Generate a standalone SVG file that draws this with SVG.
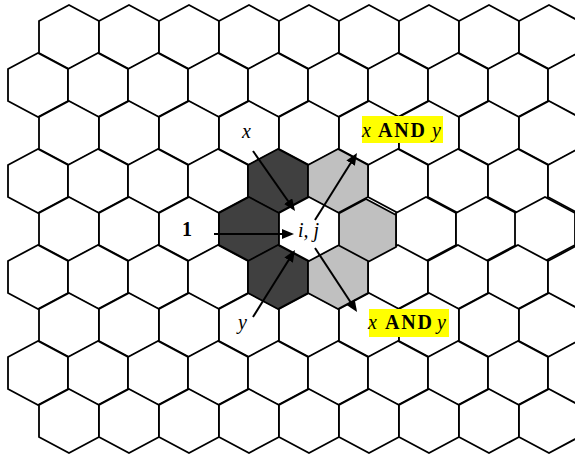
<svg xmlns="http://www.w3.org/2000/svg" xmlns:xlink="http://www.w3.org/1999/xlink" width="575" height="458" viewBox="0 0 575 458">
<style>
.h{fill:#fff;stroke:#000;stroke-width:1.8;stroke-linejoin:miter}
.dk{fill:#404040;stroke:#000;stroke-width:1.8}
.lt{fill:#c0c0c0;stroke:#000;stroke-width:1.8}
.wh{fill:#fff;stroke:#000;stroke-width:1.8}
.arr{stroke:#000;stroke-width:2;fill:none;marker-end:url(#ah)}
.t{font-family:"Liberation Serif","Times New Roman",serif;font-size:20px;fill:#000}
.i{font-style:italic}
.b{font-weight:bold}
.hl{fill:#ffff00}
</style>
<defs>
<polygon id="hex" points="0,-32 30,-16 30,16 0,32 -30,16 -30,-16"/>
<marker id="ah" markerWidth="12" markerHeight="10" refX="9" refY="5" orient="auto" markerUnits="userSpaceOnUse"><path d="M0,0 L12,5 L0,10 z" fill="#000"/></marker>
</defs>
<rect width="575" height="458" fill="#fff"/>
<g id="grid">
<use href="#hex" class="h" x="69" y="37"/><use href="#hex" class="h" x="129" y="37"/><use href="#hex" class="h" x="189" y="37"/><use href="#hex" class="h" x="249" y="37"/><use href="#hex" class="h" x="309" y="37"/><use href="#hex" class="h" x="369" y="37"/><use href="#hex" class="h" x="429" y="37"/><use href="#hex" class="h" x="489" y="37"/><use href="#hex" class="h" x="549" y="37"/>
<use href="#hex" class="h" x="38" y="85"/><use href="#hex" class="h" x="98" y="85"/><use href="#hex" class="h" x="158" y="85"/><use href="#hex" class="h" x="218" y="85"/><use href="#hex" class="h" x="278" y="85"/><use href="#hex" class="h" x="338" y="85"/><use href="#hex" class="h" x="398" y="85"/><use href="#hex" class="h" x="458" y="85"/><use href="#hex" class="h" x="518" y="85"/><use href="#hex" class="h" x="578" y="85"/>
<use href="#hex" class="h" x="69" y="133"/><use href="#hex" class="h" x="129" y="133"/><use href="#hex" class="h" x="189" y="133"/><use href="#hex" class="h" x="249" y="133"/><use href="#hex" class="h" x="309" y="133"/><use href="#hex" class="h" x="369" y="133"/><use href="#hex" class="h" x="429" y="133"/><use href="#hex" class="h" x="489" y="133"/><use href="#hex" class="h" x="549" y="133"/>
<use href="#hex" class="h" x="38" y="181"/><use href="#hex" class="h" x="98" y="181"/><use href="#hex" class="h" x="158" y="181"/><use href="#hex" class="h" x="218" y="181"/><use href="#hex" class="h" x="398" y="181"/><use href="#hex" class="h" x="458" y="181"/><use href="#hex" class="h" x="518" y="181"/><use href="#hex" class="h" x="578" y="181"/>
<use href="#hex" class="h" x="69" y="229"/><use href="#hex" class="h" x="129" y="229"/><use href="#hex" class="h" x="189" y="229"/><use href="#hex" class="h" x="426" y="229"/><use href="#hex" class="h" x="486" y="229"/><use href="#hex" class="h" x="545" y="229"/>
<use href="#hex" class="h" x="38" y="277"/><use href="#hex" class="h" x="98" y="277"/><use href="#hex" class="h" x="158" y="277"/><use href="#hex" class="h" x="218" y="277"/><use href="#hex" class="h" x="398" y="277"/><use href="#hex" class="h" x="458" y="277"/><use href="#hex" class="h" x="518" y="277"/><use href="#hex" class="h" x="578" y="277"/>
<use href="#hex" class="h" x="69" y="325"/><use href="#hex" class="h" x="129" y="325"/><use href="#hex" class="h" x="189" y="325"/><use href="#hex" class="h" x="249" y="325"/><use href="#hex" class="h" x="309" y="325"/><use href="#hex" class="h" x="369" y="325"/><use href="#hex" class="h" x="429" y="325"/><use href="#hex" class="h" x="489" y="325"/><use href="#hex" class="h" x="549" y="325"/>
<use href="#hex" class="h" x="38" y="373"/><use href="#hex" class="h" x="98" y="373"/><use href="#hex" class="h" x="158" y="373"/><use href="#hex" class="h" x="218" y="373"/><use href="#hex" class="h" x="278" y="373"/><use href="#hex" class="h" x="338" y="373"/><use href="#hex" class="h" x="398" y="373"/><use href="#hex" class="h" x="458" y="373"/><use href="#hex" class="h" x="518" y="373"/><use href="#hex" class="h" x="578" y="373"/>
<use href="#hex" class="h" x="69" y="421"/><use href="#hex" class="h" x="129" y="421"/><use href="#hex" class="h" x="189" y="421"/><use href="#hex" class="h" x="249" y="421"/><use href="#hex" class="h" x="309" y="421"/><use href="#hex" class="h" x="369" y="421"/><use href="#hex" class="h" x="429" y="421"/><use href="#hex" class="h" x="489" y="421"/><use href="#hex" class="h" x="549" y="421"/>
</g>
<g id="cell-x"><use href="#hex" class="dk" x="278" y="181"/></g>
<g id="cell-1"><use href="#hex" class="dk" x="249" y="229"/></g>
<g id="cell-y"><use href="#hex" class="dk" x="278" y="277"/></g>
<g id="cell-and-top"><use href="#hex" class="lt" x="338" y="181"/></g>
<g id="cell-right"><use href="#hex" class="lt" x="366" y="231"/></g>
<g id="cell-and-bottom"><use href="#hex" class="lt" x="338" y="277"/></g>
<g id="cell-ij"><use href="#hex" class="wh" x="309" y="229"/><text class="t i" x="298" y="237">i, j</text></g>
<g id="label-x"><text class="t i" x="242" y="138">x</text></g>
<g id="label-1"><text class="t b" x="182" y="236">1</text></g>
<g id="label-y"><text class="t i" x="238" y="329">y</text></g>
<g id="label-and-top"><rect class="hl" x="362" y="116" width="81" height="27"/><text class="t" y="137"><tspan class="i" x="362">x</tspan><tspan class="b" x="378" letter-spacing="1.8">AND</tspan><tspan class="i" x="432">y</tspan></text></g>
<g id="label-and-bottom"><rect class="hl" x="369" y="309" width="80" height="28"/><text class="t" y="329"><tspan class="i" x="368">x</tspan><tspan class="b" x="385" letter-spacing="1.8">AND</tspan><tspan class="i" x="437">y</tspan></text></g>
<g id="connectors">
<line class="arr" x1="253" y1="151" x2="293.3" y2="208.5"/>
<line class="arr" x1="214" y1="234" x2="291" y2="234"/>
<line class="arr" x1="253" y1="317" x2="293.4" y2="252.5"/>
<line class="arr" x1="315" y1="220" x2="355.4" y2="155.5"/>
<line class="arr" x1="315" y1="248" x2="355.4" y2="309.5"/>
</g>
</svg>
